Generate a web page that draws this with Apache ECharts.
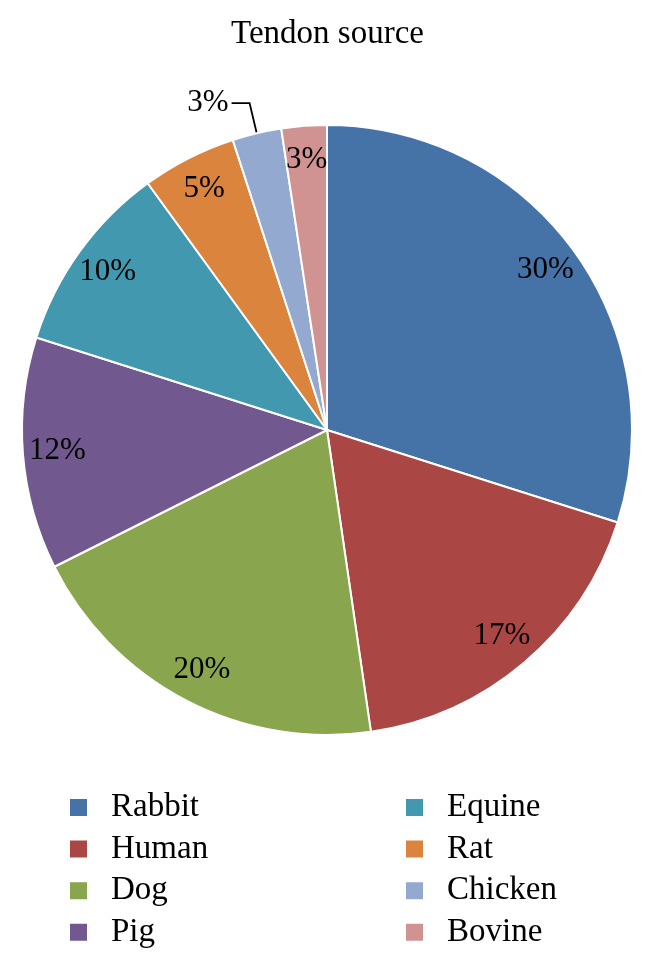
<!DOCTYPE html>
<html lang="en">
<head>
  <meta charset="UTF-8">
  <title>Tendon source</title>
  <script src="https://cdn.jsdelivr.net/npm/echarts@6/dist/echarts.min.js"></script>
  <style>
    html, body {
      margin: 0;
      padding: 0;
      background: #fff;
    }

    #chart-main {
      width: 655px;
      height: 971px;
    }
  </style>
</head>
<body>
<div id="chart-main"></div>

<script type="text/javascript">
  // 数据
  const sources = ['Rabbit', 'Human', 'Dog', 'Pig', 'Equine', 'Rat', 'Chicken', 'Bovine']
  const shares = [29.9, 17.8, 19.9, 12.3, 10.1, 5.0, 2.6, 2.4]
  const pctLabels = ['30%', '17%', '20%', '12%', '10%', '5%', '3%', '3%']
  const colors = ['#4572A7', '#AA4643', '#89A54E', '#71588F', '#4198AF', '#DB843D', '#93A9CF', '#D19392']

  const FONT = '"Liberation Serif", "DejaVu Serif", serif'
  const outsideName = 'Chicken'

  let echartItem = echarts.init(document.getElementById('chart-main'))

  // main slices, only Chicken has an outside label
  let mainData = sources.map(function (name, i) {
    let item = {name: name, value: shares[i], itemStyle: {color: colors[i]}}
    if (name === outsideName) {
      item.label = {show: true}
      item.labelLine = {show: true}
    }
    return item
  })

  // transparent ring carrying the inside labels
  let labelData = sources.map(function (name, i) {
    return {
      name: name,
      value: shares[i],
      label: {show: name !== outsideName}
    }
  })

  let legendCommon = {
    orient: 'vertical',
    icon: 'rect',
    itemWidth: 19,
    itemHeight: 19,
    itemGap: 8.6,
    padding: 0,
    selectedMode: false,
    textStyle: {
      fontFamily: FONT,
      fontSize: 33,
      lineHeight: 33,
      color: '#000',
      padding: [0, 0, 0, 18]
    }
  }

  let option = {
    animation: false,
    title: {
      text: 'Tendon source',
      left: 'center',
      top: 13,
      textStyle: {
        fontFamily: FONT,
        fontSize: 33,
        fontWeight: 'normal',
        color: '#000'
      }
    },
    legend: [
      Object.assign({left: 68, top: 791, data: sources.slice(0, 4)}, legendCommon),
      Object.assign({left: 404, top: 791, data: sources.slice(4)}, legendCommon)
    ],
    series: [
      {
        type: 'pie',
        center: [327, 430],
        radius: [0, 305],
        startAngle: 90,
        clockwise: true,
        avoidLabelOverlap: false,
        silent: true,
        itemStyle: {
          borderColor: '#fff',
          borderWidth: 2
        },
        label: {
          show: false,
          position: 'outside',
          fontFamily: FONT,
          fontSize: 31,
          color: '#000',
          distanceToLabelLine: 3,
          formatter: function (p) {
            return pctLabels[p.dataIndex]
          }
        },
        labelLine: {
          show: false,
          length: 31,
          length2: 18,
          smooth: false,
          lineStyle: {color: '#000', width: 1.8}
        },
        data: mainData
      },
      {
        type: 'pie',
        center: [327, 430],
        radius: [225, 310],
        startAngle: 90,
        clockwise: true,
        silent: true,
        itemStyle: {color: 'rgba(0,0,0,0)', borderWidth: 0},
        label: {
          position: 'inside',
          fontFamily: FONT,
          fontSize: 31,
          color: '#000',
          formatter: function (p) {
            return pctLabels[p.dataIndex]
          }
        },
        labelLine: {show: false},
        data: labelData
      }
    ]
  }

  echartItem.setOption(option)
</script>
</body>
</html>
